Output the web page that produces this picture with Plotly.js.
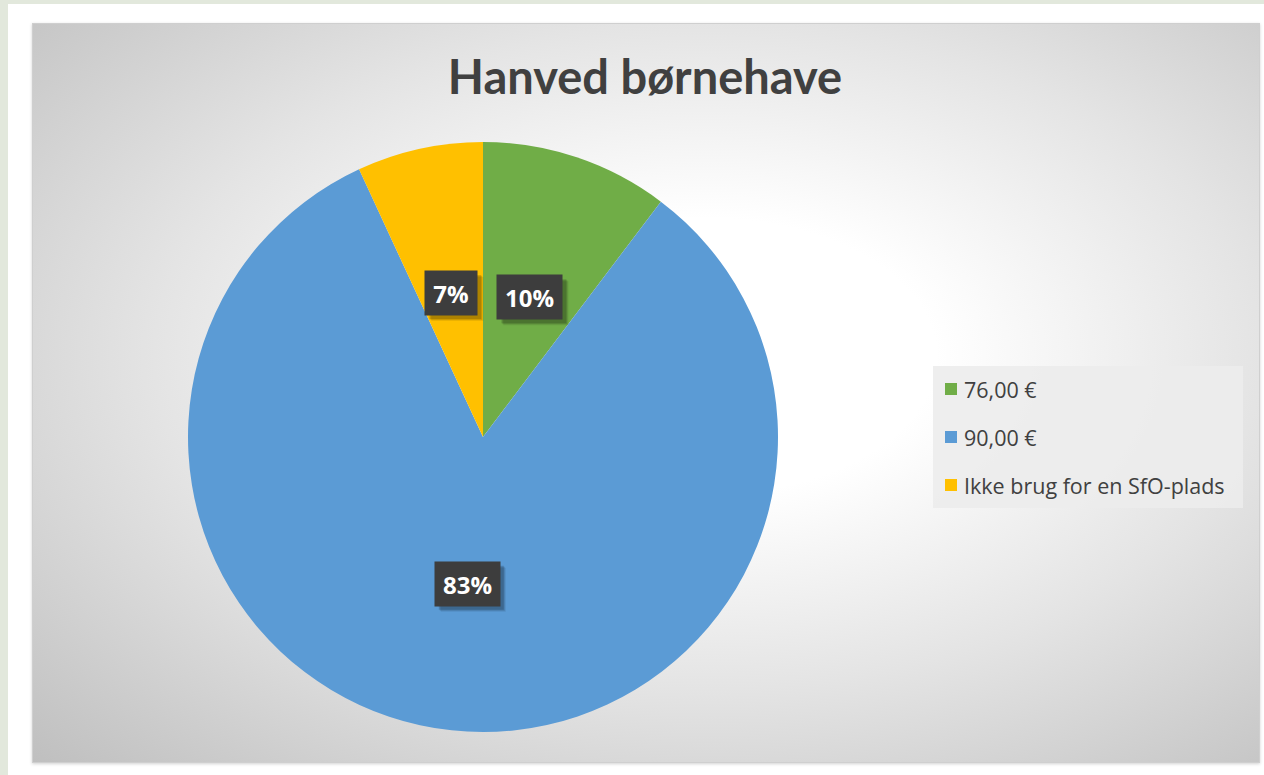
<!DOCTYPE html>
<html>
<head>
<meta charset="utf-8">
<script src="https://cdn.plot.ly/plotly-3.0.1.min.js"></script>
<style>
  html, body { margin: 0; padding: 0; width: 1264px; height: 775px; overflow: hidden; background: #e2e8dc; }
  #frame { position: absolute; left: 8px; top: 4px; width: 1256px; height: 771px; background: #ffffff; }
  #panel { position: absolute; left: 32px; top: 23px; width: 1228px; height: 740px;
    background: radial-gradient(ellipse farthest-corner at 55% 45%, #ffffff 0%, #ffffff 24%, #e4e4e4 58%, #bfbfbf 100%);
    box-shadow: 0 1px 3px rgba(0,0,0,0.18); border: 1px solid #cfcfcf; box-sizing: border-box; }
  #chart { position: absolute; left: 0; top: 0; width: 1264px; height: 775px; }
</style>
</head>
<body>
<div id="frame"></div>
<div id="panel"></div>
<div id="chart"></div>
<script>
// ---- data ----
const chartTitle = "Hanved børnehave";
const labels = ["76,00 €", "90,00 €", "Ikke brug for en SfO-plads"];
const values = [10.3, 82.8, 6.9];
const colors = ["#70ad47", "#5b9bd5", "#ffc000"];

// ---- layout geometry ----
const W = 1264, H = 775;
const domX = [188 / W, 778 / W];
const domY = [43 / H, 633 / H];
const cxPx = (domX[0] + domX[1]) / 2 * W;
const cyPx = H - (domY[0] + domY[1]) / 2 * H;
const rPx = Math.min((domX[1] - domX[0]) * W, (domY[1] - domY[0]) * H) / 2;

const total = values.reduce((a, b) => a + b, 0);
const annotations = [];
const shadowShapes = [];
let cum = 0;
values.forEach((v, i) => {
  const mid = (cum + v / 2) / total * 2 * Math.PI;
  cum += v;
  const px = cxPx + 0.5 * rPx * Math.sin(mid);
  const py = cyPx - 0.5 * rPx * Math.cos(mid);
  const txt = Math.round(v / total * 100) + "%";
  const bw = 14 + 13 * txt.length + 12, bh = 44;
  // soft shadow as layered rectangles
  [[6, 0.08], [5, 0.12], [4, 0.16]].forEach(([off, a]) => {
    shadowShapes.push({
      type: "rect", xref: "paper", yref: "paper",
      x0: (px - bw / 2 + off) / W, x1: (px + bw / 2 + off) / W,
      y0: 1 - (py + bh / 2 + off) / H, y1: 1 - (py - bh / 2 + off) / H,
      fillcolor: "rgba(0,0,0," + a + ")", line: { width: 0 }, layer: "above"
    });
  });
  annotations.push({
    xref: "paper", yref: "paper", x: px / W, y: 1 - py / H,
    showarrow: false, borderpad: 6, xanchor: "center", yanchor: "middle",
    width: bw - 12, height: bh - 12,
    text: "<b>" + txt + "</b>",
    font: { family: "Open Sans, sans-serif", size: 24, color: "#ffffff" },
    bgcolor: "#3d3d3d"
  });
});

// legend (custom, to match spacing)
const shapes = [{
  type: "rect", xref: "paper", yref: "paper",
  x0: 933 / W, x1: 1243 / W, y0: 1 - 508 / H, y1: 1 - 366 / H,
  fillcolor: "rgba(236,236,236,0.9)", line: { width: 0 }, layer: "below"
}];
labels.forEach((lab, i) => {
  const yc = 389 + i * 48;
  shapes.push({
    type: "rect", xref: "paper", yref: "paper",
    x0: 945 / W, x1: 957 / W, y0: 1 - (yc + 6) / H, y1: 1 - (yc - 6) / H,
    fillcolor: colors[i], line: { width: 0 }
  });
  annotations.push({
    xref: "paper", yref: "paper", x: 962 / W, y: 1 - yc / H,
    xanchor: "left", yanchor: "middle", showarrow: false, text: lab,
    font: { family: "Open Sans, sans-serif", size: 21.5, color: "#404040" }
  });
});

const trace = {
  type: "pie",
  labels: labels,
  values: values,
  sort: false,
  direction: "clockwise",
  rotation: 0,
  marker: { colors: colors, line: { width: 0 } },
  textinfo: "none",
  hoverinfo: "label+percent",
  domain: { x: domX, y: domY },
  showlegend: false
};

const layout = {
  width: W, height: H,
  margin: { l: 0, r: 0, t: 0, b: 0 },
  paper_bgcolor: "rgba(0,0,0,0)",
  plot_bgcolor: "rgba(0,0,0,0)",
  title: {
    text: "<b>" + chartTitle + "</b>",
    x: 645 / W, xanchor: "center",
    y: 1 - 78 / H, yanchor: "middle", yref: "container",
    font: { family: "Lato, Open Sans, sans-serif", size: 47, color: "#404040" }
  },
  showlegend: false,
  shapes: shapes.concat(shadowShapes),
  annotations: annotations
};

Plotly.newPlot("chart", [trace], layout, { displayModeBar: false, staticPlot: true });
</script>
</body>
</html>
